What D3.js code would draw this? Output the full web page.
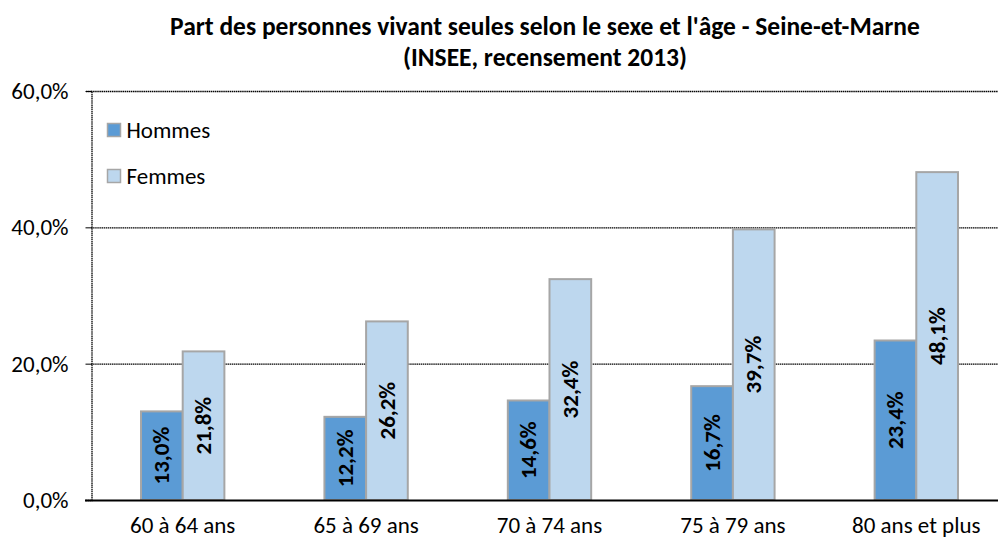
<!DOCTYPE html>
<html>
<head>
<meta charset="utf-8">
<script src="https://cdn.jsdelivr.net/npm/d3@7"></script>
<style>
  html, body { margin: 0; padding: 0; background: #fff; }
  svg { display: block; font-family: Carlito, Calibri, sans-serif; }
</style>
</head>
<body>
<svg id="chart" width="998" height="543"></svg>
<script>
// Share of people living alone, by sex and age group
const categories = ["60 à 64 ans", "65 à 69 ans", "70 à 74 ans", "75 à 79 ans", "80 ans et plus"];
const seriesNames = ["Hommes", "Femmes"];
const hommes = [13.0, 12.2, 14.6, 16.7, 23.4];
const femmes = [21.8, 26.2, 32.4, 39.7, 48.1];
const yTicks = [0, 20, 40, 60];
const titleLines = [
  "Part des personnes vivant seules selon le sexe et l'âge - Seine-et-Marne",
  "(INSEE, recensement 2013)"
];

const colors = { Hommes: "#5b9bd5", Femmes: "#bdd7ee" };
const fmt = v => d3.format(".1f")(v).replace(".", ",") + "%";
const FONT = "Carlito, Calibri, sans-serif";
const LABEL_SIZE = 23;

const svg = d3.select("#chart");
const margin = { left: 91, top: 91, bottom: 43 };
const plotW = 917;
const plotH = 543 - margin.top - margin.bottom;

const x0 = d3.scaleBand().domain(categories).range([margin.left, margin.left + plotW]);
const x1 = d3.scaleBand().domain(seriesNames).range([0, x0.bandwidth()]).paddingInner(0).paddingOuter(1.2);
const y = d3.scaleLinear().domain([0, 60]).range([margin.top + plotH, margin.top]);

// Title, two lines
svg.append("g").selectAll("text").data(titleLines).join("text")
  .attr("x", 545).attr("y", (d, i) => 35 + i * 31)
  .attr("text-anchor", "middle")
  .attr("font-size", 25.5).attr("font-weight", "bold").attr("fill", "#000")
  .text(d => d);

// Grid lines
svg.append("g").selectAll("line").data(yTicks.filter(t => t > 0)).join("line")
  .attr("x1", margin.left).attr("x2", 998)
  .attr("y1", d => y(d) + 0.5).attr("y2", d => y(d) + 0.5)
  .attr("stroke", "#000").attr("stroke-width", 1.3).attr("stroke-dasharray", "1.5,0.6");

// Y axis
const yAxis = d3.axisLeft(y).tickValues(yTicks).tickSize(6).tickFormat(fmt);
const gy = svg.append("g").attr("transform", `translate(${margin.left + 0.5},0)`).call(yAxis);
gy.select(".domain").attr("stroke", "#000").attr("stroke-width", 1.3).attr("stroke-dasharray", "1.5,0.6");
gy.selectAll(".tick line").attr("stroke", "#000");
gy.selectAll(".tick text").attr("font-size", LABEL_SIZE).attr("fill", "#000").attr("x", -23).attr("dy", "0.33em")
  .attr("font-family", FONT);

// Bars
const rows = categories.map((c, i) => ({ cat: c, values: [
  { key: "Hommes", value: hommes[i] },
  { key: "Femmes", value: femmes[i] }
]}));

const groups = svg.append("g").selectAll("g").data(rows).join("g")
  .attr("transform", d => `translate(${x0(d.cat)},0)`);

groups.selectAll("rect").data(d => d.values).join("rect")
  .attr("x", d => x1(d.key))
  .attr("y", d => y(d.value))
  .attr("width", x1.bandwidth())
  .attr("height", d => y(0) - y(d.value))
  .attr("fill", d => colors[d.key])
  .attr("stroke", "#a6a6a6").attr("stroke-width", 2);

groups.selectAll("text").data(d => d.values).join("text")
  .attr("transform", d => {
    const cx = x1(d.key) + x1.bandwidth() / 2;
    const cy = (y(d.value) + y(0)) / 2;
    return `translate(${cx},${cy}) rotate(-90)`;
  })
  .attr("text-anchor", "middle").attr("dy", "0.33em")
  .attr("font-size", LABEL_SIZE).attr("font-weight", "bold").attr("fill", "#000")
  .text(d => fmt(d.value));

// X axis baseline and labels
svg.append("line")
  .attr("x1", margin.left - 6).attr("x2", 998)
  .attr("y1", y(0) + 0.5).attr("y2", y(0) + 0.5)
  .attr("stroke", "#000").attr("stroke-width", 2);

svg.append("g").selectAll("text").data(categories).join("text")
  .attr("x", d => x0(d) + x0.bandwidth() / 2)
  .attr("y", y(0) + 33)
  .attr("text-anchor", "middle")
  .attr("font-size", LABEL_SIZE).attr("fill", "#000")
  .text(d => d);

// Legend
const legend = svg.append("g").selectAll("g").data(seriesNames).join("g")
  .attr("transform", (d, i) => `translate(107.5,${123.5 + i * 46})`);
legend.append("rect").attr("width", 13).attr("height", 13)
  .attr("fill", d => colors[d]).attr("stroke", "#a6a6a6").attr("stroke-width", 1.5);
legend.append("text").attr("x", 19).attr("y", 7).attr("dy", "0.33em")
  .attr("font-size", LABEL_SIZE).attr("fill", "#000").text(d => d);
</script>
</body>
</html>
